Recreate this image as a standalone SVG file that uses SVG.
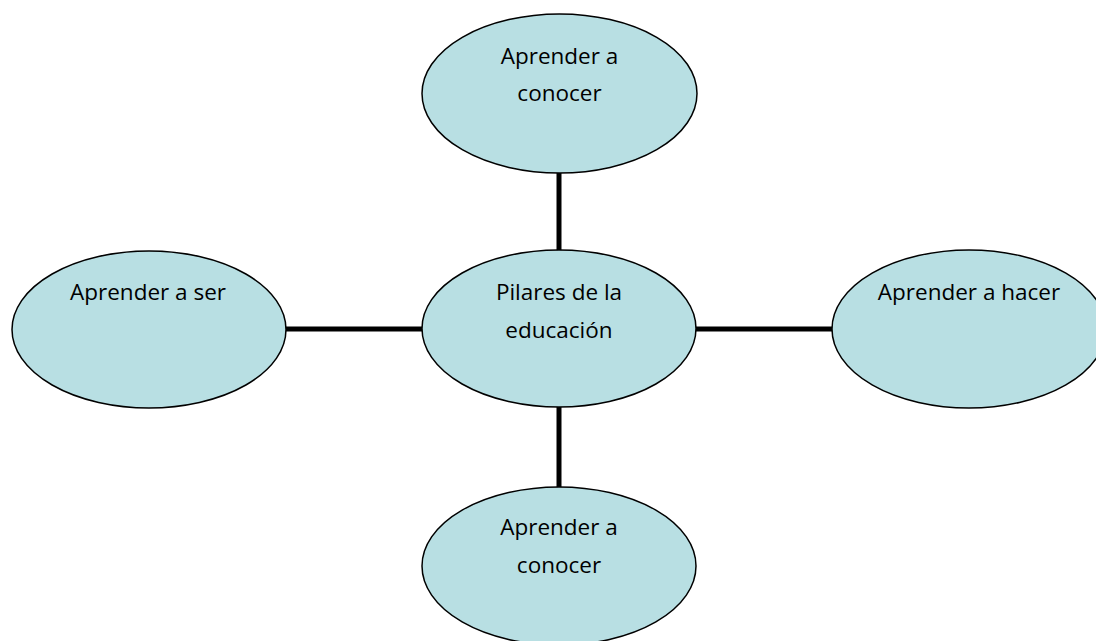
<svg xmlns="http://www.w3.org/2000/svg" width="1096" height="641" viewBox="0 0 1096 641">
<style>
.node ellipse{fill:#b8dfe3;stroke:#000;stroke-width:1.5}
.node text{font-family:"Open Sans","Noto Sans","Liberation Sans",sans-serif;font-size:22.5px;fill:#000;text-anchor:middle}
.conn line{stroke:#000;stroke-width:5}
</style>
<rect width="1096" height="641" fill="#fff"/>
<g id="connectors" class="conn">
<line x1="559" y1="172" x2="559" y2="251"/>
<line x1="559" y1="406" x2="559" y2="488"/>
<line x1="285" y1="329" x2="423" y2="329"/>
<line x1="695" y1="329" x2="833" y2="329"/>
</g>
<g id="center" class="node">
<ellipse cx="559" cy="328.5" rx="137" ry="78.5"/>
<text x="559" y="300">Pilares de la</text>
<text x="559" y="338">educación</text>
</g>
<g id="top" class="node">
<ellipse cx="559.5" cy="93.5" rx="137.5" ry="79.5"/>
<text x="559.5" y="64">Aprender a</text>
<text x="559.5" y="101">conocer</text>
</g>
<g id="left" class="node">
<ellipse cx="149" cy="329.5" rx="137" ry="78.5"/>
<text x="148" y="300">Aprender a ser</text>
</g>
<g id="right" class="node">
<ellipse cx="969" cy="329" rx="137" ry="79"/>
<text x="969" y="300">Aprender a hacer</text>
</g>
<g id="bottom" class="node">
<ellipse cx="559" cy="566" rx="137" ry="79"/>
<text x="559" y="535">Aprender a</text>
<text x="559" y="573">conocer</text>
</g>
</svg>
